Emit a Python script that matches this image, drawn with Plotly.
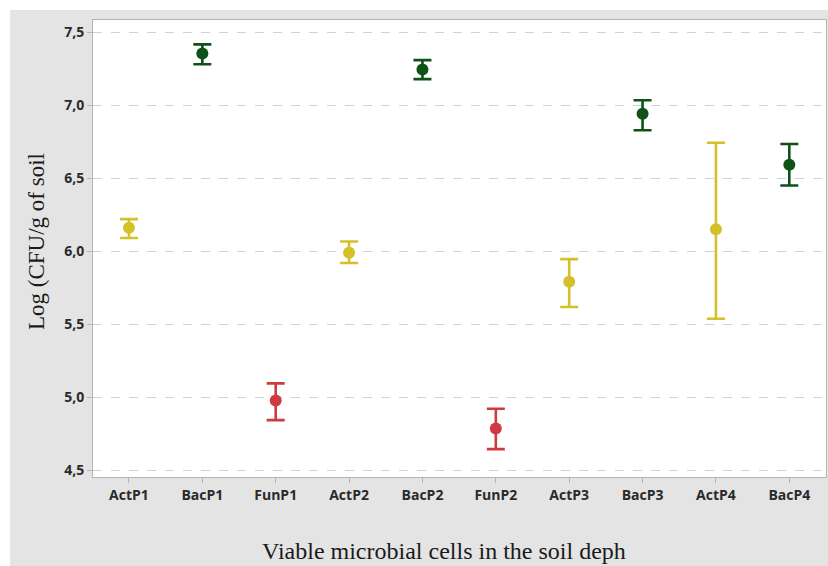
import plotly.graph_objects as go

categories = ["ActP1", "BacP1", "FunP1", "ActP2", "BacP2", "FunP2", "ActP3", "BacP3", "ActP4", "BacP4"]

act_x = ["ActP1", "ActP2", "ActP3", "ActP4"]
act_mean = [6.16, 5.99, 5.79, 6.15]
act_upper = [6.22, 6.067, 5.946, 6.743]
act_lower = [6.09, 5.919, 5.617, 5.537]

bac_x = ["BacP1", "BacP2", "BacP3", "BacP4"]
bac_mean = [7.355, 7.245, 6.942, 6.593]
bac_upper = [7.418, 7.31, 7.035, 6.735]
bac_lower = [7.282, 7.18, 6.829, 6.45]

fun_x = ["FunP1", "FunP2"]
fun_mean = [4.977, 4.785]
fun_upper = [5.094, 4.92]
fun_lower = [4.842, 4.643]

tick_vals = [4.5, 5.0, 5.5, 6.0, 6.5, 7.0, 7.5]
tick_text = ["4,5", "5,0", "5,5", "6,0", "6,5", "7,0", "7,5"]

colors = {"act": "#d4c12a", "bac": "#0e5217", "fun": "#cd3b3e"}

fig = go.Figure()


def add_group(xs, mean, upper, lower, color):
    fig.add_trace(go.Scatter(
        x=xs, y=mean, mode="markers",
        marker=dict(color=color, size=12),
        error_y=dict(
            type="data", symmetric=False,
            array=[u - m for u, m in zip(upper, mean)],
            arrayminus=[m - l for m, l in zip(mean, lower)],
            color=color, thickness=2.6, width=9,
        ),
        showlegend=False,
    ))


add_group(act_x, act_mean, act_upper, act_lower, colors["act"])
add_group(bac_x, bac_mean, bac_upper, bac_lower, colors["bac"])
add_group(fun_x, fun_mean, fun_upper, fun_lower, colors["fun"])

W, H = 828, 566
L, R, T, B = 93, 2, 20, 89
pw, ph = W - L - R, H - T - B


def px_to_paper_x(px):
    return (px - L) / pw


def px_to_paper_y(py):
    return (H - B - py) / ph


tickfont = dict(family="Open Sans", size=14, color="#2a2a2a", weight="bold")

fig.update_layout(
    width=W, height=H,
    margin=dict(l=L, r=R, t=T, b=B, pad=0),
    paper_bgcolor="white",
    plot_bgcolor="rgba(0,0,0,0)",
    shapes=[
        dict(type="rect", xref="paper", yref="paper", layer="below",
             x0=px_to_paper_x(10), x1=px_to_paper_x(830),
             y0=px_to_paper_y(570), y1=px_to_paper_y(10),
             fillcolor="#e4e4e4", line=dict(width=0)),
        dict(type="rect", xref="paper", yref="paper", layer="below",
             x0=0, x1=1, y0=0, y1=1,
             fillcolor="white", line=dict(width=0)),
    ],
    xaxis=dict(
        type="category", categoryorder="array", categoryarray=categories,
        range=[-0.49, 9.5],
        showgrid=False, zeroline=False,
        showline=True, mirror=True, linecolor="#b4b4b4", linewidth=1,
        ticks="outside", ticklen=5, tickcolor="#b4b4b4",
        tickfont=tickfont,
    ),
    yaxis=dict(
        range=[4.452, 7.585],
        tickvals=tick_vals, ticktext=tick_text,
        showgrid=True, gridcolor="#d2d2d2", griddash="dash", gridwidth=1.3,
        zeroline=False,
        showline=True, mirror=True, linecolor="#b4b4b4", linewidth=1,
        ticks="outside", ticklen=5, tickcolor="#b4b4b4",
        tickfont=tickfont,
    ),
    annotations=[
        dict(text="Log (CFU/g of soil", xref="paper", yref="paper",
             x=px_to_paper_x(36), y=px_to_paper_y(242), textangle=-90,
             showarrow=False, xanchor="center", yanchor="middle",
             font=dict(family="Liberation Serif", size=23, color="#1a1a1a")),
        dict(text="Viable microbial cells in the soil deph", xref="paper", yref="paper",
             x=px_to_paper_x(444), y=px_to_paper_y(551),
             showarrow=False, xanchor="center", yanchor="middle",
             font=dict(family="Liberation Serif", size=24, color="#1a1a1a")),
    ],
)

fig.write_html("out.html")
